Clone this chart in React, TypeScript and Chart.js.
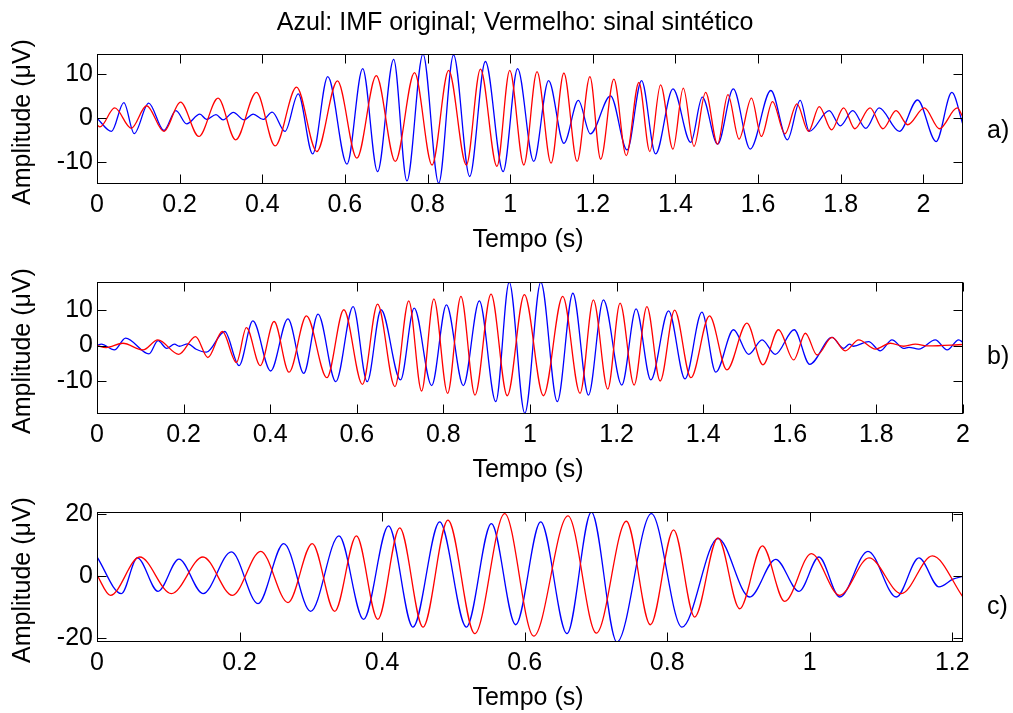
import React, { useEffect, useRef } from 'react';
import { Chart, registerables } from 'chart.js';

Chart.register(...registerables);

const FONT = '"Liberation Sans", Arial, Helvetica, sans-serif';
const TITLE = 'Azul: IMF original; Vermelho: sinal sintético';
const X_LABEL = 'Tempo (s)';
const Y_LABEL = 'Amplitude (μV)';

// ---------- Panel a ----------
const aBlueT = [0, 0.035, 0.065, 0.09, 0.125, 0.162, 0.191, 0.217, 0.249, 0.265, 0.288, 0.305, 0.33, 0.356, 0.378, 0.402, 0.424, 0.455, 0.487, 0.522, 0.5585, 0.605, 0.643, 0.679, 0.718, 0.75, 0.789, 0.827, 0.863, 0.902, 0.94, 0.983, 1.018, 1.057, 1.093, 1.13, 1.165, 1.194, 1.243, 1.283, 1.318, 1.352, 1.394, 1.437, 1.465, 1.502, 1.54, 1.581, 1.631, 1.671, 1.702, 1.724, 1.772, 1.799, 1.829, 1.861, 1.893, 1.942, 1.986, 2.031, 2.069, 2.096];
const aBlueV = [0, -3.0, 3.5, -3.5, 3.4, -2.8, 1.7, -1.3, 0.9, -0.3, 0.8, -0.4, 1.3, -0.4, 0.9, -0.3, 1.35, -3.0, 5.5, -8.1, 9.4, -10.4, 11.2, -12.1, 13.3, -14.2, 14.5, -14.7, 14.3, -13.2, 12.8, -12.1, 11.2, -9.8, 8.5, -5.7, 4.0, -3.55, 5.05, -7.2, 8.5, -8.1, 6.6, -5.5, 4.75, -5.9, 6.6, -7.0, 6.25, -4.9, 4.0, -3.0, 1.7, -1.75, 1.7, -2.3, 2.3, -3.0, 4.1, -5.3, 5.8, -1.5];
const aRedT = [0, 0.007, 0.043, 0.083, 0.12, 0.162, 0.202, 0.2465, 0.293, 0.3355, 0.386, 0.431, 0.483, 0.532, 0.582, 0.629, 0.676, 0.722, 0.7685, 0.811, 0.851, 0.894, 0.928, 0.968, 0.999, 1.033, 1.065, 1.099, 1.13, 1.162, 1.193, 1.219, 1.251, 1.281, 1.3115, 1.338, 1.364, 1.394, 1.419, 1.445, 1.473, 1.502, 1.527, 1.554, 1.584, 1.608, 1.635, 1.665, 1.694, 1.722, 1.748, 1.778, 1.807, 1.834, 1.871, 1.902, 1.934, 1.962, 2.0025, 2.039, 2.082, 2.096];
const aRedV = [-1.5, -2.0, 2.3, -2.3, 2.8, -3.0, 3.6, -4.15, 4.5, -4.9, 5.8, -6.3, 7.0, -7.55, 8.4, -9.05, 9.6, -9.8, 10.3, -10.6, 10.8, -10.6, 11.1, -10.9, 10.8, -10.6, 10.5, -10.2, 10.2, -9.8, 9.4, -9.3, 8.8, -8.5, 8.05, -7.55, 7.5, -7.0, 6.8, -6.4, 5.8, -5.9, 5.3, -4.75, 4.5, -4.15, 3.75, -3.55, 3.2, -3.0, 2.6, -2.65, 2.3, -2.4, 2.3, -2.4, 1.7, -1.5, 2.3, -2.4, 2.3, 0.2];

// ---------- Panel b ----------
const bBlueT = [0, 0.01, 0.04, 0.066, 0.12, 0.141, 0.161, 0.179, 0.19, 0.21, 0.229, 0.2525, 0.295, 0.328, 0.36, 0.401, 0.441, 0.4775, 0.5105, 0.5515, 0.5915, 0.624, 0.656, 0.701, 0.7325, 0.773, 0.807, 0.846, 0.883, 0.921, 0.952, 0.988, 1.025, 1.063, 1.099, 1.135, 1.1695, 1.212, 1.245, 1.279, 1.32, 1.358, 1.397, 1.429, 1.47, 1.505, 1.536, 1.5665, 1.61, 1.646, 1.6975, 1.724, 1.738, 1.747, 1.782, 1.809, 1.836, 1.863, 1.875, 1.898, 1.936, 1.9635, 1.99, 2.0];
const bBlueV = [0, 0.4, -1.25, 2.1, -2.4, 1.4, -0.8, 0.4, -0.2, 0.5, -1.05, -1.9, 4.0, -5.7, 7.0, -7.25, 7.6, -7.9, 8.95, -10.3, 11.1, -10.3, 10.2, -9.8, 10.65, -11.4, 11.6, -11.4, 12.75, -16.0, 18.1, -19.3, 18.1, -16.0, 14.9, -14.1, 13.0, -11.25, 10.45, -9.8, 9.9, -9.5, 9.5, -7.6, 4.5, -2.5, 1.6, -2.5, 4.5, -5.35, 2.3, -0.8, 0.4, -0.2, 1.1, -1.5, 1.6, -0.8, -0.5, -1.0, 1.6, -1.25, 1.6, 0.9];
const bRedT = [0, 0.021, 0.0597, 0.106, 0.1406, 0.189, 0.2277, 0.256, 0.2895, 0.322, 0.345, 0.377, 0.409, 0.4435, 0.4837, 0.531, 0.57, 0.613, 0.648, 0.688, 0.72, 0.7496, 0.778, 0.8097, 0.8405, 0.873, 0.91, 0.9475, 0.987, 1.031, 1.0756, 1.1156, 1.1464, 1.1796, 1.208, 1.2405, 1.27, 1.3006, 1.334, 1.3716, 1.4146, 1.4548, 1.501, 1.538, 1.574, 1.609, 1.636, 1.663, 1.6975, 1.728, 1.759, 1.798, 1.832, 1.863, 1.89, 1.92, 2.0];
const bRedV = [0, -0.6, 0.65, -1.25, 1.6, -2.5, 2.55, -3.4, 4.0, -4.8, 5.1, -5.7, 6.85, -7.6, 8.45, -9.15, 10.2, -11.05, 11.8, -11.7, 12.75, -12.95, 13.3, -13.6, 14.0, -14.1, 14.65, -14.3, 14.5, -14.3, 14.0, -13.6, 13.0, -12.4, 12.1, -11.25, 11.1, -10.1, 10.1, -9.15, 8.45, -6.95, 6.4, -5.5, 4.5, -4.1, 3.5, -2.7, 2.3, -1.5, 1.6, -1.0, 0.65, -0.2, 0.4, -0.1, 0.3];

// ---------- Panel c ----------
const cBlueT = [0, 0.0342, 0.0567, 0.0856, 0.115, 0.1487, 0.1885, 0.2259, 0.262, 0.2998, 0.3395, 0.374, 0.409, 0.4433, 0.4808, 0.5182, 0.5533, 0.5874, 0.6225, 0.6594, 0.6936, 0.7295, 0.7778, 0.8207, 0.8712, 0.9157, 0.9522, 0.9849, 1.0129, 1.042, 1.0817, 1.1215, 1.1532, 1.1813, 1.2009, 1.215];
const cBlueV = [6.2, -5.7, 5.9, -4.95, 5.5, -5.7, 7.85, -8.95, 10.55, -11.45, 13.05, -14.05, 16.3, -16.55, 17.6, -16.55, 17.05, -15.8, 17.6, -18.7, 20.8, -21.4, 20.3, -16.55, 12.2, -6.8, 5.45, -4.95, 6.2, -6.8, 8.05, -6.8, 5.9, -3.5, -1.0, 0];
const cRedT = [0, 0.0188, 0.06, 0.1044, 0.1487, 0.19, 0.2297, 0.268, 0.302, 0.3335, 0.364, 0.394, 0.4247, 0.4574, 0.4924, 0.53, 0.572, 0.6127, 0.6608, 0.7006, 0.7427, 0.7764, 0.809, 0.8385, 0.8712, 0.9017, 0.9335, 0.9648, 1.0022, 1.042, 1.0831, 1.1285, 1.172, 1.215];
const cRedV = [0.3, -6.25, 6.2, -5.7, 6.2, -6.25, 8.05, -8.6, 10.55, -11.45, 13.05, -14.05, 15.65, -16.55, 18.15, -18.7, 20.3, -19.5, 19.55, -18.5, 17.8, -15.8, 15.0, -13.3, 12.4, -10.6, 9.8, -8.2, 7.3, -6.25, 5.9, -5.7, 6.55, -6.8];

// ---------- Ticks ----------
const xTicks2s = [0, 0.2, 0.4, 0.6, 0.8, 1, 1.2, 1.4, 1.6, 1.8, 2];
const xTicksC = [0, 0.2, 0.4, 0.6, 0.8, 1, 1.2];
const yTicks10 = [-10, 0, 10];
const yTicks20 = [-20, 0, 20];

type Panel = {
  blueT: number[]; blueV: number[]; redT: number[]; redV: number[];
  xMin: number; xMax: number; yMin: number; yMax: number;
  xTicks: number[]; yTicks: number[];
  letter: string; letterDy: number; title: boolean;
  top: number; height: number; padTop: number; xAxisH: number;
};

const W = 1013;
const PLOT_LEFT = 97;
const PLOT_RIGHT = 963;
const FS = 25;

const panels: Panel[] = [
  { blueT: aBlueT, blueV: aBlueV, redT: aRedT, redV: aRedV, xMin: 0, xMax: 2.096, yMin: -14.9, yMax: 14.5,
    xTicks: xTicks2s, yTicks: yTicks10, letter: 'a)', letterDy: 12, title: true, top: 0, height: 260, padTop: 54, xAxisH: 76 },
  { blueT: bBlueT, blueV: bBlueV, redT: bRedT, redV: bRedV, xMin: 0, xMax: 2.0, yMin: -19.5, yMax: 18.1,
    xTicks: xTicks2s, yTicks: yTicks10, letter: 'b)', letterDy: 9, title: false, top: 260, height: 230, padTop: 22, xAxisH: 76 },
  { blueT: cBlueT, blueV: cBlueV, redT: cRedT, redV: cRedV, xMin: 0, xMax: 1.215, yMin: -21.4, yMax: 20.8,
    xTicks: xTicksC, yTicks: yTicks20, letter: 'c)', letterDy: 30, title: false, top: 490, height: 223, padTop: 22, xAxisH: 71 },
];

const fmt = (v: number) => String(Number(v.toFixed(2)));

function buildConfig(p: Panel): any {
  const pts = (ts: number[], vs: number[]) => ts.map((t, i) => ({ x: t, y: vs[i] }));
  const frame = {
    id: 'frame',
    afterDraw(chart: any) {
      const { ctx, chartArea: ca, scales } = chart;
      const xs = scales.x, ys = scales.y;
      const L = Math.round(ca.left) + 0.5, R = Math.round(ca.right) - 0.5;
      const T = Math.round(ca.top) + 0.5, B = Math.round(ca.bottom) - 0.5;
      ctx.save();
      ctx.strokeStyle = '#000';
      ctx.lineWidth = 1;
      ctx.strokeRect(L, T, R - L, B - T);
      ctx.beginPath();
      const TL = 9;
      p.xTicks.forEach((v) => {
        const px = Math.round(xs.getPixelForValue(v)) + 0.5;
        ctx.moveTo(px, B); ctx.lineTo(px, B - TL);
        ctx.moveTo(px, T); ctx.lineTo(px, T + TL);
      });
      p.yTicks.forEach((v) => {
        const py = Math.round(ys.getPixelForValue(v)) + 0.5;
        ctx.moveTo(L, py); ctx.lineTo(L + TL, py);
        ctx.moveTo(R, py); ctx.lineTo(R - TL, py);
      });
      ctx.stroke();

      ctx.fillStyle = '#000';
      ctx.font = `${FS}px ${FONT}`;
      const cx = (ca.left + ca.right) / 2;
      const cy = (ca.top + ca.bottom) / 2;
      ctx.textAlign = 'center';
      ctx.textBaseline = 'alphabetic';
      ctx.fillText(X_LABEL, cx - 2, ca.bottom + 63);

      ctx.save();
      ctx.translate(23, cy + 3);
      ctx.rotate(-Math.PI / 2);
      ctx.textBaseline = 'middle';
      ctx.fillText(Y_LABEL, 0, 0);
      ctx.restore();

      ctx.textAlign = 'left';
      ctx.textBaseline = 'middle';
      ctx.fillText(p.letter, ca.right + 24, cy + p.letterDy);

      if (p.title) {
        ctx.textAlign = 'center';
        ctx.textBaseline = 'middle';
        ctx.fillText(TITLE, cx - 15, ca.top - 31);
      }
      ctx.restore();
    },
  };

  return {
    type: 'line',
    data: {
      datasets: [
        { label: 'IMF original', data: pts(p.blueT, p.blueV), borderColor: '#0000ff', order: 1 },
        { label: 'sinal sintético', data: pts(p.redT, p.redV), borderColor: '#ff0000', order: 0 },
      ],
    },
    options: {
      animation: false,
      responsive: false,
      devicePixelRatio: 1,
      layout: { padding: { left: 0, right: W - PLOT_RIGHT, top: p.padTop, bottom: 0 } },
      plugins: { legend: { display: false }, tooltip: { enabled: false }, title: { display: false } },
      elements: {
        point: { radius: 0 },
        line: { borderWidth: 1.3, cubicInterpolationMode: 'monotone', fill: false },
      },
      scales: {
        x: {
          type: 'linear', min: p.xMin, max: p.xMax,
          grid: { display: false, drawTicks: false },
          border: { display: false },
          ticks: {
            autoSkip: false, maxRotation: 0, minRotation: 0, padding: 6, color: '#000',
            font: { family: FONT, size: FS, lineHeight: 1.2 },
            callback: (v: number) => fmt(v),
          },
          afterBuildTicks: (s: any) => { s.ticks = p.xTicks.map((v) => ({ value: v })); },
          afterFit: (s: any) => { s.height = p.xAxisH; },
        },
        y: {
          type: 'linear', min: p.yMin, max: p.yMax,
          grid: { display: false, drawTicks: false },
          border: { display: false },
          ticks: {
            padding: 4, color: '#000',
            font: { family: FONT, size: FS, lineHeight: 1.2 },
            callback: (v: number) => fmt(v),
          },
          afterBuildTicks: (s: any) => { s.ticks = p.yTicks.map((v) => ({ value: v })); },
          afterFit: (s: any) => { s.width = PLOT_LEFT; },
        },
      },
    },
    plugins: [frame],
  };
}

function PanelChart({ p }: { p: Panel }) {
  const ref = useRef<HTMLCanvasElement | null>(null);
  useEffect(() => {
    if (!ref.current) return;
    const chart = new Chart(ref.current, buildConfig(p));
    return () => chart.destroy();
  }, [p]);
  return (
    <canvas
      ref={ref}
      width={W}
      height={p.height}
      style={{ position: 'absolute', left: 0, top: p.top, width: W, height: p.height, display: 'block' }}
    />
  );
}

export default function App() {
  return (
    <div style={{ position: 'absolute', left: 0, top: 0, width: W, height: 713, background: '#fff', overflow: 'hidden' }}>
      {panels.map((p) => (
        <PanelChart key={p.letter} p={p} />
      ))}
    </div>
  );
}
